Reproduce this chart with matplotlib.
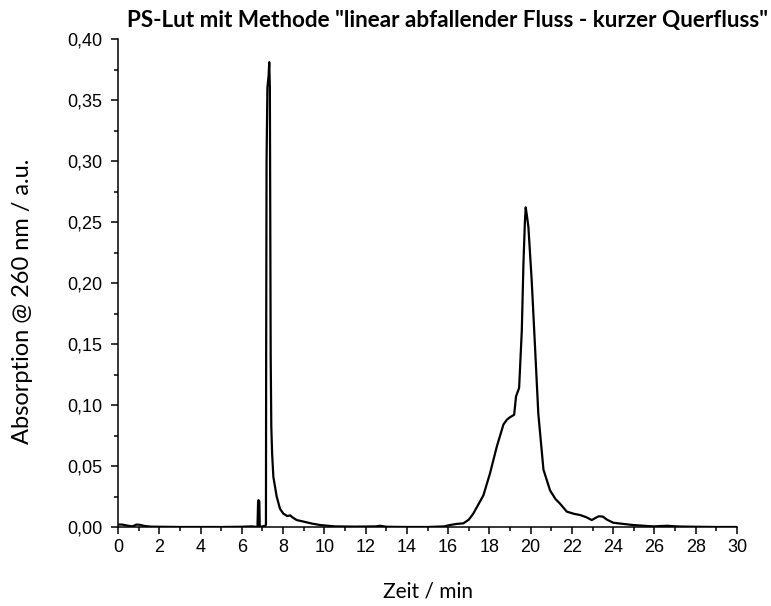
import matplotlib
matplotlib.use("Agg")
import matplotlib.pyplot as plt
from matplotlib.ticker import MultipleLocator, FuncFormatter

time_min = [0.0, 0.2, 0.35, 0.5, 0.7, 0.9, 1.05, 1.3, 1.6, 2.0, 3.0, 4.0, 5.0, 6.0, 6.5, 6.76, 6.79, 6.81, 6.85, 6.87, 6.9, 7.0, 7.15, 7.17, 7.18, 7.2, 7.24, 7.3, 7.33, 7.36, 7.38, 7.40, 7.43, 7.47, 7.53, 7.69, 7.85, 8.01, 8.2, 8.35, 8.45, 8.66, 9.0, 9.4, 9.8, 10.5, 11.5, 12.5, 12.7, 13.0, 14.0, 15.0, 15.8, 16.09, 16.4, 16.74, 17.0, 17.22, 17.45, 17.71, 18.03, 18.36, 18.68, 18.85, 19.0, 19.2, 19.29, 19.44, 19.57, 19.65, 19.72, 19.76, 19.82, 19.89, 20.05, 20.21, 20.37, 20.62, 20.94, 21.2, 21.43, 21.75, 22.1, 22.4, 22.7, 22.96, 23.15, 23.3, 23.5, 23.7, 24.0, 24.5, 24.98, 25.5, 25.95, 26.6, 27.2, 28.0, 29.0, 30.0]
absorption = [0.002, 0.002, 0.0015, 0.001, 0.0005, 0.002, 0.0018, 0.0008, 0.0003, 0.0002, 0.0, 0.0, 0.0, 0.0002, 0.0005, 0.0, 0.021, 0.022, 0.021, 0.0, 0.0, 0.0005, 0.001, 0.002, 0.135, 0.30, 0.36, 0.37, 0.381, 0.36, 0.25, 0.14, 0.082, 0.06, 0.041, 0.025, 0.015, 0.011, 0.009, 0.0095, 0.008, 0.0057, 0.0044, 0.0028, 0.0016, 0.0005, 0.0003, 0.0005, 0.001, 0.0002, 0.0, 0.0, 0.0005, 0.0016, 0.0025, 0.003, 0.006, 0.011, 0.018, 0.026, 0.044, 0.066, 0.084, 0.088, 0.090, 0.092, 0.107, 0.114, 0.161, 0.216, 0.25, 0.262, 0.255, 0.246, 0.202, 0.148, 0.093, 0.047, 0.030, 0.023, 0.019, 0.0126, 0.0108, 0.0098, 0.008, 0.0057, 0.0075, 0.0088, 0.0085, 0.006, 0.0035, 0.0025, 0.0016, 0.001, 0.0005, 0.001, 0.0004, 0.0002, 0.0, 0.0]

x_major = 2
y_major = 0.05

fig = plt.figure(figsize=(7.71, 6.06), dpi=100)
ax = fig.add_axes([118/771, 1 - 527/606, (737 - 118)/771, (527 - 39)/606])
ax.plot(time_min, absorption, color="black", lw=1.6, solid_joinstyle="round")

ax.set_xlim(0, 30)
ax.set_ylim(0, 0.40)
ax.xaxis.set_major_locator(MultipleLocator(x_major))
ax.xaxis.set_minor_locator(MultipleLocator(x_major / 2))
ax.yaxis.set_major_locator(MultipleLocator(y_major))
ax.yaxis.set_minor_locator(MultipleLocator(y_major / 2))
ax.xaxis.set_major_formatter(FuncFormatter(lambda v, p: f"{v:.0f}"))
ax.yaxis.set_major_formatter(FuncFormatter(lambda v, p: f"{v:.2f}".replace(".", ",")))

for s in ["top", "right"]:
    ax.spines[s].set_visible(False)
for s in ["left", "bottom"]:
    ax.spines[s].set_linewidth(1.1)
ax.tick_params(which="major", direction="out", length=5, width=1.1, labelsize=13,
               labelfontfamily="Liberation Sans", colors="black")
ax.tick_params(axis="y", which="major", pad=6)
ax.tick_params(which="minor", direction="out", length=3, width=1.1)

fig.text(428/771, 1 - 592/606, "Zeit / min", ha="center", va="center", fontsize=15, family="Lato")
fig.text(22.5/771, 1 - 301/606, "Absorption @ 260 nm / a.u.", ha="center", va="center",
         rotation=90, fontsize=17, family="Lato")
fig.text(447/771, 1 - 20/606, 'PS-Lut mit Methode "linear abfallender Fluss - kurzer Querfluss"',
         ha="center", va="center", fontsize=16.2, family="Lato", fontweight="bold")

fig.savefig("out.png", dpi=100)
